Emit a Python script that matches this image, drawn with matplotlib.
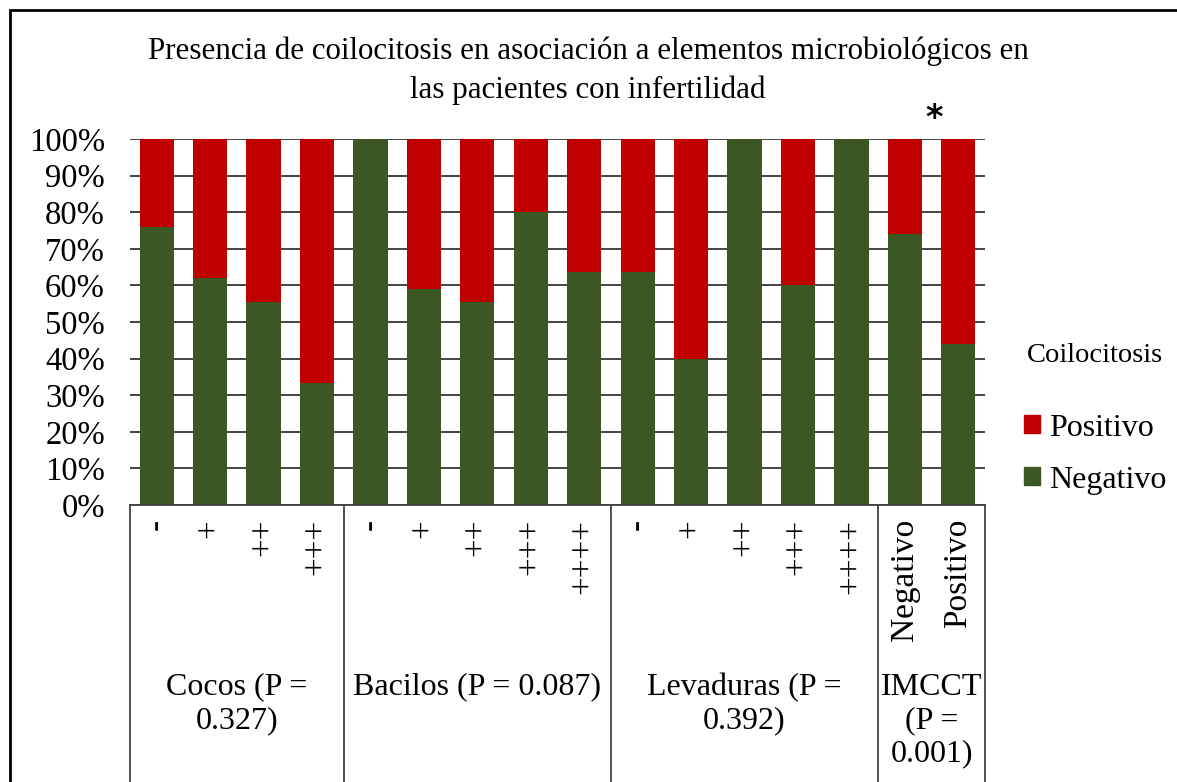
import matplotlib
matplotlib.use("Agg")
import matplotlib.pyplot as plt
from matplotlib.patches import Rectangle, Patch
import matplotlib.transforms as mtransforms

plt.rcParams['font.family'] = ['Liberation Serif', 'DejaVu Serif']

# ---- data ----
groups = ["Cocos (P =\n0.327)", "Bacilos (P = 0.087)", "Levaduras (P =\n0.392)", "IMCCT\n(P =\n0.001)"]
group_sizes = [4, 5, 5, 2]
tick_labels = ["-", "+", "++", "+++",
               "-", "+", "++", "+++", "++++",
               "-", "+", "++", "+++", "++++",
               "Negativo", "Positivo"]
negativo = [76, 62, 55.5, 33.3,
            100, 59, 55.5, 80, 63.6,
            63.6, 40, 100, 60, 100,
            74, 44]
positivo = [100 - v for v in negativo]

title = "Presencia de coilocitosis en asociación a elementos microbiológicos en\nlas pacientes con infertilidad"
legend_title = "Coilocitosis"
c_pos = "#C00000"
c_neg = "#3A5724"

W, H = 1177, 782
fig = plt.figure(figsize=(W / 100, H / 100), dpi=100)

# outer frame (cropped on right/bottom)
fig.patches.append(Rectangle((10 / W, -0.05), 1.2, (H - 10) / H + 0.05, transform=fig.transFigure,
                             fill=False, edgecolor='black', linewidth=2))

ax = fig.add_axes([130 / W, (H - 505) / H, 855 / W, (505 - 139) / H])
x = list(range(len(negativo)))
ax.bar(x, negativo, width=0.64, color=c_neg, label="Negativo", zorder=2)
ax.bar(x, positivo, bottom=negativo, width=0.64, color=c_pos, label="Positivo", zorder=2)

ax.set_xlim(-0.5, len(x) - 0.5)
ax.set_ylim(0, 100)
ax.set_yticks(range(0, 101, 10))
ax.set_yticklabels([f"{v}%" for v in range(0, 101, 10)], fontsize=23.5)
ax.tick_params(axis='y', length=0, pad=18)
ax.yaxis.grid(True, color='#111111', linewidth=1.1, zorder=0)
ax.set_axisbelow(True)
for s in ['top', 'right', 'left']:
    ax.spines[s].set_visible(False)
ax.spines['bottom'].set_color('#444444')
ax.spines['bottom'].set_linewidth(1.3)

ax.set_xticks(x)
ax.set_xticklabels(tick_labels, rotation=90, fontsize=24, va='top', ha='center')
ax.tick_params(axis='x', length=0, pad=10)

# category box lines
trans = mtransforms.blended_transform_factory(ax.transData, ax.transAxes)
bounds = [-0.5]
for g in group_sizes:
    bounds.append(bounds[-1] + g)
for b in bounds:
    ax.plot([b, b], [0, -0.8], transform=trans, color='#444444', linewidth=1.3, clip_on=False)

# group labels
for i, g in enumerate(groups):
    cx = (bounds[i] + bounds[i + 1]) / 2
    ax.text(cx, -0.458, g, transform=trans, ha='center', va='top', fontsize=23,
            linespacing=1.2)

# significance asterisk
ax.text(len(x) - 1.45, 105.5, "*", ha='center', va='center', fontsize=24, fontweight='bold',
        family='DejaVu Sans')

fig.text(588 / W, 1 - 37 / H, title, ha='center', va='top', fontsize=22.3, linespacing=1.38)

handles = [Patch(color=c_pos, label="Positivo"), Patch(color=c_neg, label="Negativo")]
leg = fig.legend(handles=handles, title=legend_title, loc='upper left',
                 bbox_to_anchor=(995 / W, 1 - 314 / H), frameon=False,
                 fontsize=23, title_fontsize=20.5, handlelength=0.5, handleheight=0.5,
                 handletextpad=0.3, labelspacing=0.72)
leg._legend_box.sep = 33

fig.savefig("out.png", dpi=100)
